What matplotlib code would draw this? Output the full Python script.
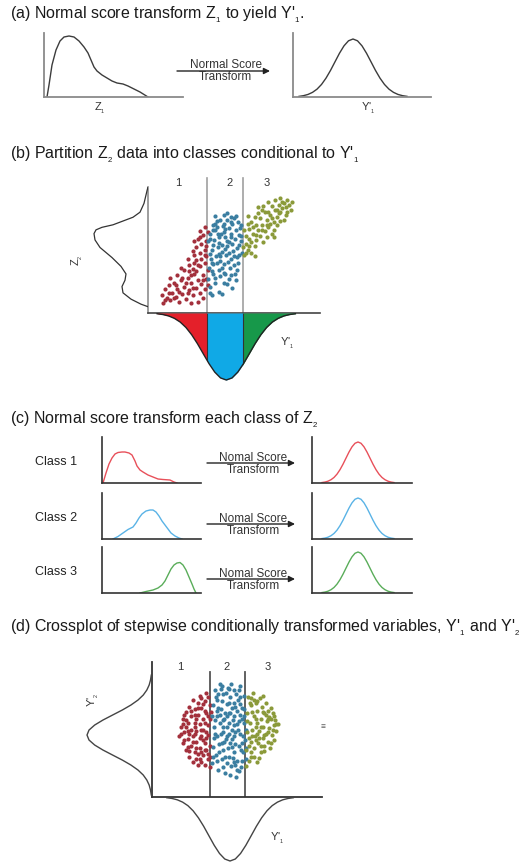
import numpy as np
import matplotlib.pyplot as plt
from matplotlib.patches import FancyArrowPatch, Polygon, Rectangle

plt.rcParams['font.family'] = ['Liberation Sans', 'DejaVu Sans']
plt.rcParams['mathtext.fontset'] = 'custom'
plt.rcParams['mathtext.rm'] = 'Liberation Sans'
plt.rcParams['mathtext.it'] = 'Liberation Sans:italic'

# standard normal shape (z, height)
bell_z = [-3.0, -2.75, -2.5, -2.25, -2.0, -1.75, -1.5, -1.25, -1.0, -0.75, -0.5, -0.25, 0.0,
          0.25, 0.5, 0.75, 1.0, 1.25, 1.5, 1.75, 2.0, 2.25, 2.5, 2.75, 3.0]
bell_h = [0.011, 0.023, 0.044, 0.080, 0.135, 0.216, 0.325, 0.458, 0.607, 0.755, 0.882, 0.969, 1.0,
          0.969, 0.882, 0.755, 0.607, 0.458, 0.325, 0.216, 0.135, 0.080, 0.044, 0.023, 0.011]

# (a) skewed Z1 distribution
z1_x = [3, 5, 8, 12, 16, 20, 25, 30, 35, 40, 44, 47, 50, 53, 58, 63, 68, 73, 79, 84, 90, 96, 104]
z1_y = [0, 12, 32, 47, 56, 60, 61, 60, 56, 50, 44, 37, 30, 26, 22, 19, 16, 14, 13, 11, 8, 5, 0]

# (b) Z2 marginal (distance from axis, Z2)
z2_d = [0, 1, 4, 8, 15, 25, 35, 46, 52, 54, 53, 48, 36, 27, 22, 23, 26, 25, 17, 7, 0]
z2_v = [100, 97, 87, 80, 76, 73, 70, 68, 66, 63, 58, 52, 44, 37, 31, 26, 21, 16, 11, 7, 5]

# (b) scatter of Z2 vs Y'1 by class
b1 = [(9, 8), (11, 12), (8, 14), (13, 10), (14, 16), (10, 19), (12, 22), (16, 13), (17, 19), (15, 24),
      (18, 9), (19, 26), (20, 15), (21, 21), (13, 28), (17, 30), (22, 11), (23, 28), (24, 18), (25, 24),
      (26, 14), (27, 31), (28, 20), (29, 26), (21, 34), (24, 38), (26, 35), (28, 42), (30, 16), (31, 23),
      (32, 30), (33, 19), (30, 37), (33, 40), (34, 27), (32, 12), (35, 34), (29, 9), (25, 8), (19, 36),
      (23, 43), (27, 46), (30, 48), (33, 50), (28, 52), (31, 55), (34, 57), (29, 59), (32, 62), (35, 64),
      (27, 57), (33, 46), (30, 65), (34, 53), (26, 49),
      (10, 10), (12, 16), (15, 12), (16, 22), (18, 17), (20, 28), (22, 24), (23, 16), (25, 30), (26, 20),
      (28, 33), (29, 38), (31, 43), (32, 26), (34, 45), (35, 22), (30, 60), (33, 68), (27, 40), (24, 33)]
b2 = [(37, 14), (41, 17), (36, 21), (43, 15), (46, 23), (39, 24), (42, 29), (47, 27), (38, 31), (44, 32),
      (49, 20), (35, 27), (35.5, 36), (38, 38.5), (41.5, 34), (44, 39), (47.5, 35.5), (50, 38), (36.5, 43),
      (39.5, 45), (42, 41.5), (45.5, 46), (48, 42.5), (51.5, 44.5), (37, 50), (40.5, 52), (43, 48.5),
      (46, 53), (49.5, 49), (52, 51.5), (35, 57), (38.5, 58), (41, 55.5), (44.5, 60), (47, 56), (50.5, 59),
      (53, 54), (36, 63), (39, 66), (42.5, 62.5), (45, 67), (48.5, 63), (51, 65.5), (54, 61), (37.5, 70),
      (40, 73), (43.5, 69), (46, 74), (49, 70.5), (52.5, 72), (39, 77), (44, 78), (48, 76.5), (53.5, 67.5),
      (54.5, 48), (36, 46.5), (41, 60), (46.5, 40.5), (50.5, 31), (52.5, 40), (40, 39.5), (43, 54),
      (47, 67.5), (38, 54), (50, 75), (44, 71), (54, 57.5), (42, 45), (48, 60), (45, 31), (51, 26),
      (37, 33), (53, 46), (40.5, 63), (46, 57), (39, 71),
      (36, 16), (39, 28), (44, 24), (48, 30), (52, 34), (37, 40), (41, 47), (45, 51), (49, 55), (53, 62),
      (36, 59), (40, 68), (44, 64), (48, 72), (51, 77), (42, 74), (46, 79), (54, 70), (38, 66), (50, 45),
      (43, 36), (47, 48)]
b3 = [(56, 46), (58, 50), (57, 55), (60, 48), (62, 53), (59, 59), (61, 63), (56, 66), (58, 71), (63, 58),
      (64, 66), (60, 72), (65, 61), (66, 70), (62, 76), (67, 56), (68, 65), (69, 74), (64, 79), (70, 68),
      (71, 78), (72, 63), (73, 72), (66, 82), (74, 82), (75, 76), (76, 86), (72, 85), (77, 80), (78, 88),
      (79, 74), (80, 84), (81, 90), (82, 86), (83, 82), (70, 88), (68, 80), (74, 90), (57, 61), (59, 53),
      (63, 70), (65, 75), (71, 71), (73, 66), (76, 79), (78, 83), (69, 60), (61, 68), (67, 85), (80, 78),
      (55.5, 52), (75, 70), (58, 77), (62, 45), (77, 91), (84, 88),
      (57, 48), (60, 56), (63, 62), (66, 66), (69, 70), (72, 75), (75, 82), (79, 87), (81, 80), (64, 84),
      (70, 80), (73, 60), (59, 67), (77, 73)]

# (c) class distributions of Z2
c_x = [[1, 4, 7, 10, 13, 16, 20, 23, 27, 30, 33, 35, 38, 41, 46, 51, 56, 61, 68, 72, 75],
       [11, 16, 21, 26, 31, 34, 37, 40, 44, 48, 51, 54, 57, 60, 63, 66, 69, 73, 77, 80],
       [38, 44, 51, 56, 60, 63, 66, 69, 72, 75, 78, 81, 84, 87, 90, 92, 94]]
c_y = [[0, 10, 19, 25, 29, 30.5, 31, 31, 30, 28, 22, 17, 13, 11, 8, 6, 4, 3.5, 3, 1, 0],
       [0, 2.5, 6, 9.5, 12, 16, 21, 25, 28, 29, 29, 27, 23, 18, 14, 10, 6, 3, 1, 0],
       [0, 1.5, 3, 5, 8, 12, 18, 24, 28, 30, 30.5, 28, 23, 16, 9, 4, 0]]
class_names = ['Class 1', 'Class 2', 'Class 3']
class_colors = ['#e8505a', '#5ab3e6', '#5aad5a']

# (d) scatter of Y'2 vs Y'1 by class
d1 = [(16, 45), (17, 52), (18, 40), (18, 58), (19, 48), (20, 35), (20, 63), (21, 43), (21, 55), (22, 30),
      (22, 67), (23, 38), (23, 50), (23, 60), (24, 45), (24, 72), (25, 33), (25, 55), (25, 65), (26, 28),
      (26, 41), (26, 49), (27, 61), (27, 70), (28, 36), (28, 54), (28, 75), (29, 26), (29, 45), (29, 66),
      (30, 31), (30, 50), (30, 58), (31, 40), (31, 71), (31, 24), (32, 35), (32, 62), (32, 77), (33, 46),
      (33, 53), (33, 28), (34, 68), (34, 38), (34, 22), (34, 58), (24, 26), (19, 61), (21, 37), (22, 47),
      (27, 32), (29, 73), (30, 42), (31, 55), (32, 48), (33, 74), (26, 58), (20, 52), (28, 44), (25, 47),
      (33, 32), (27, 24), (34.5, 63), (18, 54),
      (17, 47), (19, 42), (20, 57), (22, 34), (23, 64), (24, 41), (25, 52), (26, 36), (27, 66), (28, 28),
      (29, 50), (30, 69), (31, 35), (32, 44), (33, 60), (34, 30), (21, 49), (25, 61), (29, 33), (31, 64)]
d2 = [(35.5, 25), (36, 37), (36.5, 52), (36, 68), (37, 79), (37.5, 31), (38, 45), (38, 60), (38.5, 72),
      (39, 20), (39.5, 39), (40, 55), (40, 84), (40.5, 65), (41, 28), (41.5, 48), (42, 76), (42, 35),
      (42.5, 58), (43, 18), (43.5, 43), (44, 69), (44, 52), (44.5, 81), (45, 30), (45.5, 62), (46, 40),
      (46, 74), (46.5, 23), (47, 50), (47.5, 57), (48, 33), (48, 79), (48.5, 45), (49, 67), (49.5, 15),
      (50, 27), (50, 54), (50.5, 72), (51, 38), (51.5, 61), (52, 47), (52, 82), (52.5, 22), (53, 66),
      (53.5, 33), (54, 55), (54, 75), (54.5, 42), (55, 28), (36.5, 44), (37, 57), (38.5, 27), (39, 66),
      (40.5, 47), (41, 71), (41.5, 22), (42.5, 41), (43, 62), (43.5, 77), (44.5, 36), (45, 47), (45.5, 55),
      (46.5, 84), (47, 66), (47.5, 29), (48.5, 60), (49, 39), (49.5, 76), (50.5, 50), (51, 19), (51.5, 69),
      (52.5, 35), (53, 58), (53.5, 45), (54, 65), (55, 50), (35.5, 60), (37.5, 74), (39.5, 33), (40, 61),
      (42, 52), (45, 70), (46, 16), (47, 43), (49, 24), (51, 79), (53, 27), (44, 25), (48.5, 53),
      (40.5, 80), (50, 64),
      (36, 30), (37, 47), (38, 64), (39, 76), (41, 40), (42, 57), (43, 30), (44, 45), (45, 80), (46, 62),
      (47, 37), (48, 70), (49, 48), (50, 20), (51, 56), (52, 74), (53, 40), (54, 60), (55, 36), (41, 82),
      (44, 60), (48, 26)]
d3 = [(55.5, 35), (56, 48), (56, 62), (56.5, 74), (57, 27), (57.5, 55), (58, 41), (58, 68), (58.5, 30),
      (59, 50), (59.5, 77), (60, 60), (60, 36), (60.5, 45), (61, 70), (61.5, 26), (62, 55), (62, 64),
      (62.5, 40), (63, 49), (63.5, 73), (64, 33), (64, 58), (64.5, 67), (65, 44), (65.5, 52), (66, 38),
      (66, 62), (67, 47), (67, 70), (67.5, 56), (68, 41), (68.5, 64), (69, 51), (69.5, 36), (70, 58),
      (70.5, 46), (71, 62), (71.5, 53), (72, 42), (72.5, 57), (73, 49), (74, 54), (57, 44), (59, 63),
      (61, 52), (63, 29), (65, 75), (66, 46), (68, 58), (70, 66), (58, 33), (60, 72), (62, 47), (64, 38),
      (57.5, 70), (61, 42), (55.5, 23),
      (56, 56), (57, 38), (58, 73), (59, 45), (60, 30), (61, 58), (62, 71), (63, 44), (64, 52), (65, 63),
      (66, 34), (67, 61), (68, 48), (69, 59), (70, 40), (71, 50), (72, 60), (73, 54)]
dot_colors = ['#a3303c', '#3b7ea1', '#8b9a3a']
fill_colors = ['#e4202a', '#10a9e6', '#17984a']

W, H = 531, 863
fig = plt.figure(figsize=(W / 100, H / 100), dpi=100)

ov = fig.add_axes([0, 0, 1, 1])
ov.set_xlim(0, W)
ov.set_ylim(H, 0)
ov.axis('off')


def sub(s):
    # small, low subscript like the original figure
    return '$_{{}_{' + s + '}}$'


def box(left, top, width, height):
    ax = fig.add_axes([left / W, 1 - (top + height) / H, width / W, height / H])
    ax.patch.set_alpha(0)
    ax.set_xticks([])
    ax.set_yticks([])
    return ax


def mini(left, top, width, height, lcol='#333333', bcol='#333333', lw=1.2):
    ax = box(left, top, width, height)
    ax.spines['top'].set_visible(False)
    ax.spines['right'].set_visible(False)
    ax.spines['left'].set_color(lcol)
    ax.spines['bottom'].set_color(bcol)
    ax.spines['left'].set_linewidth(lw)
    ax.spines['bottom'].set_linewidth(lw)
    ax.set_xlim(0, width)
    ax.set_ylim(0, height)
    return ax


def arrow(x0, x1, y, top_text, fs=8.5):
    ov.add_patch(FancyArrowPatch((x0, y), (x1, y), arrowstyle='-|>', mutation_scale=9,
                                 color='#222222', lw=1, shrinkA=0, shrinkB=0))
    ov.text((x0 + x1) / 2 + 2, y + 0.5, top_text, ha='center', va='bottom', fontsize=fs, color='#333333')
    ov.text((x0 + x1) / 2 + 2, y + 0.5, 'Transform', ha='center', va='top', fontsize=fs, color='#333333')


def title(y, s):
    ov.text(10, y, s, ha='left', va='center', fontsize=11.5, color='#1a1a1a')


bz = np.array(bell_z)
bh = np.array(bell_h)

# ---- (a)
title(15, "(a) Normal score transform Z" + sub('1') + " to yield Y'" + sub('1') + ".")
ax = mini(44, 33, 139, 64, '#8a8a8a', '#8a8a8a', 1.3)
ax.plot(z1_x, z1_y, color='#3c3c3c', lw=1)
ax = mini(293, 33, 138, 64, '#8a8a8a', '#8a8a8a', 1.3)
ax.plot(60 + 18 * bz, 58 * bh, color='#3c3c3c', lw=1)
ov.text(100, 108, 'Z' + sub('1'), ha='center', va='center', fontsize=8, color='#333333')
ov.text(368, 108, "Y'" + sub('1'), ha='center', va='center', fontsize=8, color='#333333')
arrow(177, 270, 71, 'Normal Score')

# ---- (b)
title(155, "(b) Partition Z" + sub('2') + " data into classes conditional to Y'" + sub('1'))
cuts_b = [34.3, 55.2]
sc = mini(148, 187, 172, 126, '#8c8c8c', '#444444', 1.2)
sc.set_xlim(0, 100)
sc.set_ylim(0, 100)
for pts, col in zip([b1, b2, b3], dot_colors):
    p = np.array(pts)
    sc.scatter(p[:, 0], p[:, 1], s=9, color=col, lw=0, clip_on=False, zorder=3)
for c in cuts_b:
    sc.plot([c, c], [0, 107], color='#a0a0a0', lw=1.2, clip_on=False, zorder=2)
for xl, lab in zip([17.4, 47.7, 69.2], ['1', '2', '3']):
    sc.text(xl, 103.5, lab, ha='center', va='center', fontsize=8, color='#333333')

lm = box(88, 187, 60, 126)
lm.axis('off')
lm.set_xlim(60, 0)
lm.set_ylim(0, 100)
lm.plot(z2_d, z2_v, color='#333333', lw=0.9)
ov.text(77, 260, 'Z' + sub('2'), rotation=90, ha='center', va='center', fontsize=8, color='#333333')

bm = box(148, 313, 172, 72)
bm.axis('off')
bm.set_xlim(0, 100)
bm.set_ylim(72, 0)
bx = 45.5 + 13.4 * bz
by = 67 * bh
edges = [0] + cuts_b + [100]
for i, col in enumerate(fill_colors):
    f = bm.fill_between(bx, 0, by, color=col, lw=0)
    f.set_clip_path(Rectangle((edges[i], 0), edges[i + 1] - edges[i], 72, transform=bm.transData))
bell_patch = Polygon(np.column_stack([bx, by]), closed=True, transform=bm.transData)
for c in cuts_b:
    ln = bm.plot([c, c], [0, 72], color='#333333', lw=0.8)[0]
    ln.set_clip_path(bell_patch)
bm.plot(bx, by, color='#222222', lw=1)
bm.text(80.8, 30, "Y'" + sub('1'), ha='center', va='center', fontsize=8, color='#333333')

# ---- (c)
title(420, "(c) Normal score transform each class of Z" + sub('2'))
tops = [437, 493, 547]
arrow_y = [463, 524, 579]
for k in range(3):
    ax = mini(102, tops[k], 99, 46)
    ax.plot(c_x[k], c_y[k], color=class_colors[k], lw=1)
    ax = mini(312, tops[k], 100, 46)
    ax.plot(46 + 12 * bz, 41 * bh, color=class_colors[k], lw=1)
    ov.text(35, tops[k] + 25, class_names[k], ha='left', va='center', fontsize=9, color='#222222')
    arrow(207, 295, arrow_y[k], 'Nomal Score')

# ---- (d)
title(628, "(d) Crossplot of stepwise conditionally transformed variables, Y'" + sub('1')
      + " and Y'" + sub('2'))
cuts_d = [34.1, 54.7]
sc = mini(152, 662, 170, 135, '#333333', '#333333', 1.3)
sc.set_xlim(0, 100)
sc.set_ylim(0, 100)
for pts, col in zip([d1, d2, d3], dot_colors):
    p = np.array(pts)
    sc.scatter(p[:, 0], p[:, 1], s=9, color=col, lw=0, zorder=3)
for c in cuts_d:
    sc.plot([c, c], [0, 92.6], color='#555555', lw=1.3, zorder=2)
for xl, lab in zip([16.5, 44, 68], ['1', '2', '3']):
    sc.text(xl, 96.3, lab, ha='center', va='center', fontsize=8, color='#333333')

lm = box(80, 662, 72, 135)
lm.axis('off')
lm.set_xlim(72, 0)
lm.set_ylim(0, 100)
lm.plot(65 * bh, 45.9 + 14.8 * bz, color='#444444', lw=1)
ov.text(93, 700, "Y'" + sub('2'), rotation=90, ha='center', va='center', fontsize=8, color='#333333')

bm = box(152, 797, 170, 66)
bm.axis('off')
bm.set_xlim(0, 100)
bm.set_ylim(66, 0)
bm.plot(45.9 + 12.4 * bz, 64 * bh, color='#444444', lw=1)
bm.text(73.5, 41, "Y'" + sub('1'), ha='center', va='center', fontsize=8, color='#333333')
ov.text(323, 727, '\u2261', ha='center', va='center', fontsize=6, color='#555555')

fig.savefig('out.png', dpi=100)
